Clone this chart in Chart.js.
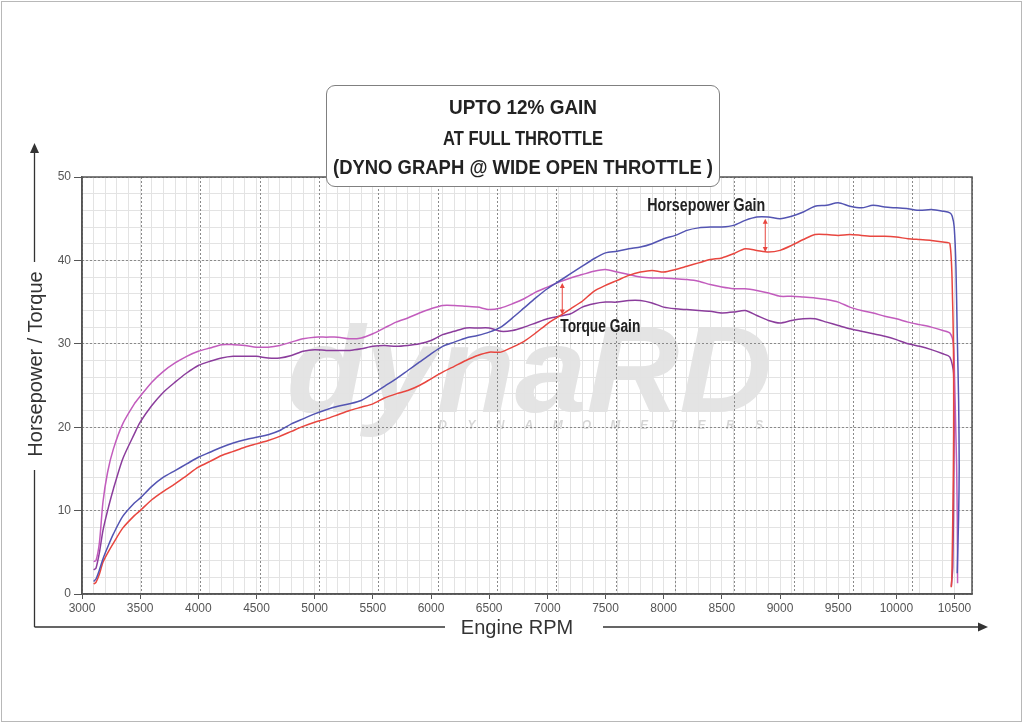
<!DOCTYPE html>
<html>
<head>
<meta charset="utf-8">
<title>Dyno graph</title>
<script src="https://cdn.jsdelivr.net/npm/chart.js@4.4.1/dist/chart.umd.min.js"></script>
<style>
    html, body { margin: 0; padding: 0; background: #fff; }
    #page { position: relative; width: 1024px; height: 723px; overflow: hidden; }
    #border { position: absolute; left: 1px; top: 1px; width: 1021px; height: 721px; border: 1px solid #b8b8b8; box-sizing: border-box; }
    #chart { position: absolute; left: 0; top: 0; }
    #guides { position: absolute; left: 0; top: 0; }
    .heading { position: absolute; left: 326px; top: 85px; width: 394px; height: 102px; box-sizing: border-box;
        border: 1px solid #808080; border-radius: 9px; background: #fff; color: #222;
        font-family: 'Liberation Sans', Arial, sans-serif; font-weight: bold; font-size: 21px; }
    .heading span { position: absolute; left: 50%; line-height: 21px; white-space: nowrap; transform-origin: 50% 50%; transform: translateX(-50%); }
    .axis-label { position: absolute; font-family: 'Liberation Sans', Arial, sans-serif; font-size: 20px; color: #333; white-space: nowrap; line-height: 20px; }
    #y-label { left: 35px; top: 364px; transform: translate(-50%, -50%) rotate(-90deg); }
    #x-label { left: 517px; top: 627px; transform: translate(-50%, -50%); }
</style>
</head>
<body>
<div id="page">
    <div id="border"></div>
    <canvas id="chart" width="1024" height="723"></canvas>
    <svg id="guides" width="1024" height="723">
        <g stroke="#333" stroke-width="1.3" fill="none">
            <path d="M34.5 627 V470 M34.5 262 V152"></path>
            <path d="M34.5 627 H445 M603 627 H979"></path>
        </g>
        <g fill="#333">
            <polygon points="34.5,143 30,153 39,153"></polygon>
            <polygon points="988,627 978,622.5 978,631.5"></polygon>
        </g>
    </svg>
    <div class="axis-label" id="y-label">Horsepower / Torque</div>
    <div class="axis-label" id="x-label">Engine RPM</div>
    <div class="heading">
        <span style="top: 9.5px" data-w="148">UPTO 12% GAIN</span>
        <span style="top: 41px" data-w="160">AT FULL THROTTLE</span>
        <span style="top: 69.5px" data-w="380">(DYNO GRAPH @ WIDE OPEN THROTTLE )</span>
    </div>
</div>
<script>
    const rpm = [3100, 3120, 3150, 3180, 3220, 3270, 3350, 3450, 3500, 3600, 3700, 3800, 3900, 4000,
        4100, 4200, 4300, 4400, 4500, 4600, 4700, 4800, 4900, 5000, 5100, 5200, 5300, 5400, 5500,
        5600, 5700, 5800, 5900, 6000, 6100, 6200, 6300, 6400, 6500, 6600, 6700, 6800, 6900, 7000,
        7100, 7200, 7300, 7400, 7500, 7600, 7700, 7800, 7900, 8000, 8100, 8200, 8300, 8400, 8500,
        8600, 8700, 8800, 8900, 9000, 9100, 9200, 9300, 9400, 9500, 9600, 9700, 9800, 9900, 10000,
        10100, 10200, 10300, 10400, 10460];

    const hpAfter = [1.5, 1.8, 2.9, 4.2, 5.6, 7.2, 9.3, 10.9, 11.5, 12.9, 14.0, 14.8, 15.6, 16.4,
        17.0, 17.6, 18.1, 18.5, 18.8, 19.1, 19.6, 20.4, 21.0, 21.6, 22.1, 22.5, 22.8, 23.2, 24.0,
        24.9, 25.8, 26.8, 27.8, 28.8, 29.7, 30.2, 30.7, 31.0, 31.4, 32.0, 33.1, 34.3, 35.5, 36.6,
        37.5, 38.4, 39.3, 40.2, 40.9, 41.1, 41.4, 41.6, 42.0, 42.6, 43.0, 43.6, 43.9, 44.0, 44.0,
        44.2, 44.8, 45.2, 45.2, 45.0, 45.3, 45.8, 46.5, 46.6, 46.9, 46.5, 46.3, 46.6, 46.4, 46.3,
        46.2, 46.0, 46.1, 45.9, 45.7];
    const hpBefore = [1.2, 1.4, 2.4, 3.8, 4.9, 6.1, 7.9, 9.4, 10.0, 11.3, 12.3, 13.2, 14.2, 15.2,
        15.9, 16.6, 17.1, 17.6, 18.0, 18.4, 18.9, 19.5, 20.1, 20.6, 21.0, 21.5, 22.0, 22.4, 22.8,
        23.5, 24.0, 24.4, 25.0, 25.8, 26.6, 27.3, 28.0, 28.6, 29.0, 29.0, 29.6, 30.3, 31.3, 32.4,
        33.3, 34.2, 35.1, 36.3, 37.0, 37.6, 38.2, 38.6, 38.8, 38.6, 38.9, 39.3, 39.7, 40.1, 40.3,
        40.8, 41.4, 41.2, 41.0, 41.2, 41.8, 42.5, 43.1, 43.1, 43.0, 43.1, 43.0, 42.9, 42.9, 42.8,
        42.6, 42.5, 42.4, 42.2, 42.0];
    const torqueAfter = [3.9, 4.0, 6.2, 11.0, 14.6, 17.4, 20.4, 22.8, 23.7, 25.4, 26.7, 27.7, 28.5, 29.1,
        29.5, 29.9, 29.9, 29.8, 29.6, 29.6, 29.8, 30.2, 30.6, 30.8, 30.8, 30.8, 30.6, 30.7, 31.2,
        31.9, 32.6, 33.1, 33.7, 34.2, 34.6, 34.6, 34.5, 34.4, 34.1, 34.3, 34.8, 35.4, 36.2, 36.8,
        37.4, 37.9, 38.3, 38.7, 38.9, 38.6, 38.3, 38.0, 37.9, 37.9, 37.8, 37.7, 37.5, 37.1, 36.8,
        36.6, 36.6, 36.4, 36.1, 35.7, 35.7, 35.6, 35.5, 35.3, 35.0, 34.4, 34.0, 33.7, 33.3, 33.0,
        32.6, 32.3, 32.0, 31.6, 31.3];
    const torqueBefore = [2.9, 3.1, 5.0, 7.6, 10.0, 12.6, 16.2, 19.2, 20.6, 22.6, 24.2, 25.4, 26.5, 27.4,
        27.9, 28.3, 28.5, 28.5, 28.5, 28.3, 28.3, 28.6, 29.1, 29.3, 29.2, 29.2, 29.2, 29.4, 29.7,
        29.8, 29.7, 29.8, 30.0, 30.4, 31.1, 31.5, 31.9, 31.9, 31.9, 31.5, 31.6, 32.0, 32.5, 33.0,
        33.3, 33.6, 34.4, 34.8, 35.0, 35.0, 35.2, 35.2, 34.9, 34.4, 34.2, 34.1, 34.0, 33.9, 33.7,
        33.8, 34.0, 33.4, 32.8, 32.5, 32.8, 33.0, 33.0, 32.6, 32.2, 31.8, 31.5, 31.2, 30.9, 30.5,
        30.0, 29.7, 29.3, 28.8, 28.4];

    // run-down at the end of each pull
    const hpAfterTailRpm = [10480, 10497, 10512, 10523, 10535, 10540, 10535, 10523];
    const hpAfterTail = [45.3, 44.0, 39.2, 31.2, 23.2, 15.3, 9.3, 2.5];
    const hpBeforeTailRpm = [10483, 10492, 10492, 10487, 10477, 10472];
    const hpBeforeTail = [35.2, 27.2, 19.2, 11.3, 2.1, 0.8];
    const torqueAfterTailRpm = [10490, 10500, 10510, 10518, 10524, 10526];
    const torqueAfterTail = [30.0, 26.0, 20.0, 15.3, 8.0, 1.3];
    const torqueBeforeTailRpm = [10492, 10494, 10485, 10472];
    const torqueBeforeTail = [26.4, 15.3, 3.3, 0.9];

    const xTicks = { min: 3000, max: 10650, minor: 100, major: 500 };
    const yTicks = { min: 0, max: 50, minor: 2, major: 10 };

    const gains = [
        { label: 'Horsepower Gain', rpm: 8873, from: 45.0, to: 41.0, textRpm: 8366, textY: 46.5, width: 118 },
        { label: 'Torque Gain', rpm: 7128, from: 37.3, to: 33.5, textRpm: 7455, textY: 32.0, width: 80 }
    ];

    const tickFont = { family: "'Liberation Sans Narrow', 'Liberation Sans', Arial, sans-serif", size: 12 };

    function points(xs, ys) {
        return xs.map((x, i) => ({ x: x, y: ys[i] }));
    }

    function line(label, xs, ys, tailX, tailY, color) {
        return {
            label: label,
            data: points(xs, ys).concat(points(tailX, tailY)),
            borderColor: color,
            backgroundColor: color,
            borderWidth: 1.5,
            pointRadius: 0,
            tension: 0.25,
            xAxisID: 'x',
            yAxisID: 'y'
        };
    }

    const watermark = {
        id: 'watermark',
        beforeDraw(chart) {
            const ctx = chart.ctx;
            const x = chart.scales.x;
            const y = chart.scales.y;
            const left = x.getPixelForValue(4760);
            const right = x.getPixelForValue(8930);
            const base = y.getPixelForValue(21.8);
            ctx.save();
            ctx.fillStyle = '#e4e4e4';
            ctx.font = 'italic bold 122px "Liberation Sans", Arial, sans-serif';
            ctx.textBaseline = 'alphabetic';
            const w = ctx.measureText('dynaRD').width;
            ctx.translate(left, base);
            ctx.scale((right - left) / w, 1);
            ctx.fillText('dynaRD', 0, 0);
            ctx.restore();

            ctx.save();
            ctx.fillStyle = '#d6d6d6';
            ctx.font = 'italic bold 12px "Liberation Sans", Arial, sans-serif';
            ctx.textAlign = 'center';
            ctx.textBaseline = 'middle';
            const letters = 'DYNAMOMETERS'.split('');
            const x0 = x.getPixelForValue(6100);
            const x1 = x.getPixelForValue(8820);
            const yy = y.getPixelForValue(20.2);
            letters.forEach((c, i) => {
                ctx.fillText(c, x0 + (x1 - x0) * i / (letters.length - 1), yy);
            });
            ctx.restore();
        }
    };

    const frame = {
        id: 'frame',
        beforeDatasetsDraw(chart) {
            const a = chart.chartArea;
            const ctx = chart.ctx;
            ctx.save();
            ctx.strokeStyle = '#555';
            ctx.lineWidth = 1.5;
            ctx.strokeRect(a.left, a.top, a.right - a.left, a.bottom - a.top);
            ctx.restore();
        }
    };

    const gainMarks = {
        id: 'gainMarks',
        afterDatasetsDraw(chart) {
            const ctx = chart.ctx;
            const x = chart.scales.x;
            const y = chart.scales.y;
            gains.forEach(g => {
                const px = x.getPixelForValue(g.rpm);
                const top = y.getPixelForValue(g.from);
                const bottom = y.getPixelForValue(g.to);
                ctx.save();
                ctx.strokeStyle = '#e8463f';
                ctx.fillStyle = '#e8463f';
                ctx.lineWidth = 1;
                ctx.beginPath();
                ctx.moveTo(px, top + 4);
                ctx.lineTo(px, bottom - 4);
                ctx.stroke();
                ctx.beginPath();
                ctx.moveTo(px, top);
                ctx.lineTo(px - 2.5, top + 5);
                ctx.lineTo(px + 2.5, top + 5);
                ctx.closePath();
                ctx.fill();
                ctx.beginPath();
                ctx.moveTo(px, bottom);
                ctx.lineTo(px - 2.5, bottom - 5);
                ctx.lineTo(px + 2.5, bottom - 5);
                ctx.closePath();
                ctx.fill();
                ctx.restore();

                ctx.save();
                ctx.fillStyle = '#222';
                ctx.font = 'bold 18px "Liberation Sans", Arial, sans-serif';
                ctx.textAlign = 'center';
                ctx.textBaseline = 'middle';
                const w = ctx.measureText(g.label).width;
                ctx.translate(x.getPixelForValue(g.textRpm), y.getPixelForValue(g.textY));
                ctx.scale(g.width / w, 1);
                ctx.fillText(g.label, 0, 0);
                ctx.restore();
            });
        }
    };

    const config = {
        type: 'line',
        data: {
            datasets: [
                line('Horsepower (tuned)', rpm, hpAfter, hpAfterTailRpm, hpAfterTail, '#5354b2'),
                line('Horsepower (stock)', rpm, hpBefore, hpBeforeTailRpm, hpBeforeTail, '#e8463f'),
                line('Torque (tuned)', rpm, torqueAfter, torqueAfterTailRpm, torqueAfterTail, '#c25cbd'),
                line('Torque (stock)', rpm, torqueBefore, torqueBeforeTailRpm, torqueBeforeTail, '#8b3d9c')
            ]
        },
        options: {
            responsive: false,
            animation: false,
            events: [],
            layout: { padding: { left: 52, top: 177, right: 52, bottom: 99 } },
            plugins: {
                legend: { display: false },
                title: { display: false },
                tooltip: { enabled: false }
            },
            scales: {
                x: {
                    type: 'linear',
                    position: 'bottom',
                    min: xTicks.min,
                    max: xTicks.max,
                    afterFit: s => { s.height = 30; },
                    ticks: {
                        stepSize: xTicks.minor,
                        autoSkip: false,
                        maxRotation: 0,
                        padding: 2,
                        color: '#555',
                        font: tickFont,
                        callback: v => v % xTicks.major === 0 ? v : ''
                    },
                    grid: {
                        color: '#e3e3e3',
                        tickLength: 5,
                        tickColor: c => c.tick && c.tick.value % xTicks.major === 0 ? '#555' : 'rgba(0,0,0,0)'
                    },
                    border: { color: '#555', width: 1.5 }
                },
                y: {
                    type: 'linear',
                    position: 'left',
                    min: yTicks.min,
                    max: yTicks.max,
                    afterFit: s => { s.width = 30; },
                    ticks: {
                        stepSize: yTicks.minor,
                        autoSkip: false,
                        padding: 3,
                        color: '#555',
                        font: tickFont,
                        callback: v => v % yTicks.major === 0 ? v : ''
                    },
                    grid: {
                        color: '#e3e3e3',
                        tickLength: 8,
                        tickColor: c => c.tick && c.tick.value % yTicks.major === 0 ? '#555' : 'rgba(0,0,0,0)'
                    },
                    border: { color: '#555', width: 1.5 }
                },
                xMajor: {
                    type: 'linear',
                    position: 'bottom',
                    min: xTicks.min,
                    max: xTicks.max,
                    afterFit: s => { s.height = 0; },
                    ticks: { display: false, stepSize: xTicks.major },
                    grid: { color: '#8a8a8a', drawTicks: false },
                    border: { display: false, dash: [2, 2] }
                },
                yMajor: {
                    type: 'linear',
                    position: 'left',
                    min: yTicks.min,
                    max: yTicks.max,
                    afterFit: s => { s.width = 0; },
                    ticks: { display: false, stepSize: yTicks.major },
                    grid: { color: '#8a8a8a', drawTicks: false },
                    border: { display: false, dash: [2, 2] }
                }
            }
        },
        plugins: [watermark, frame, gainMarks]
    };

    document.querySelectorAll('.heading span').forEach(function (el) {
        const w = el.getBoundingClientRect().width;
        el.style.transform = 'translateX(-50%) scaleX(' + (el.dataset.w / w) + ')';
    });

    new Chart(document.getElementById('chart'), config);
</script>
</body>
</html>
